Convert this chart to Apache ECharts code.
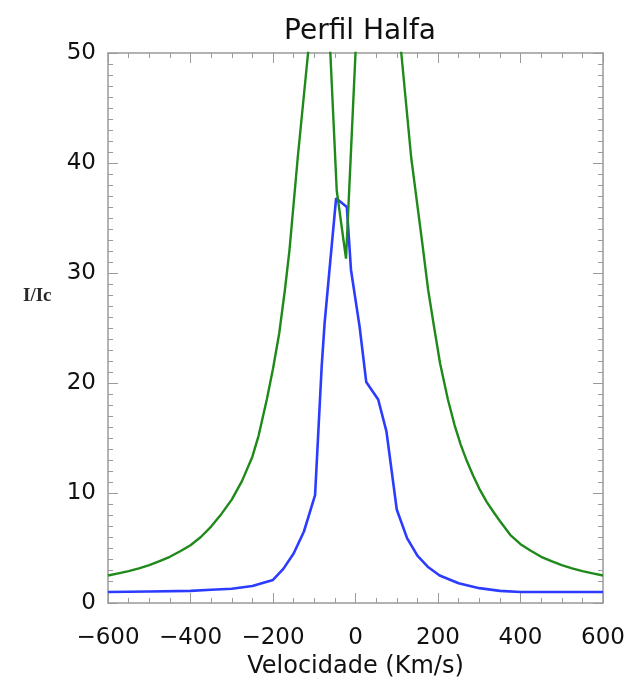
<!DOCTYPE html>
<html>
<head>
<meta charset="utf-8">
<script src="https://cdn.jsdelivr.net/npm/echarts@6/dist/echarts.min.js"></script>
<style>
html,body{margin:0;padding:0;background:#fff;}
#chart{width:631px;height:680px;}
</style>
</head>
<body>
<div id="chart"></div>
<script>
// Blue profile (velocity km/s, I/Ic)
const velBlue = [-600,-500,-400,-350,-300,-250,-200,-175,-150,-125,-98,-82,-75,-63,-47,-21,-11,10,26,55,75,100,125,150,175,204,250,300,350,400,500,600];
const icBlue  = [1.0,1.05,1.1,1.2,1.3,1.55,2.1,3.1,4.5,6.5,9.8,21.5,25.4,30.3,36.8,36.0,30.3,25.1,20.1,18.5,15.6,8.5,5.9,4.3,3.3,2.5,1.8,1.35,1.1,1.0,1.0,1.0];
// Green profile
const velGreen = [-600,-575,-550,-525,-500,-475,-450,-425,-400,-375,-350,-325,-300,-275,-250,-235,-215,-200,-185,-171,-160,-140,-115,-80,-61,-45.5,-23,-13,0,35,111,135,163,176,190,205,224,240,255,270,285,300,318,335,350,375,400,425,450,475,500,525,550,575,600];
const icGreen  = [2.5,2.7,2.9,3.15,3.45,3.8,4.2,4.7,5.25,6.0,6.95,8.1,9.4,11.1,13.3,15.2,18.5,21.3,24.5,28.5,32.1,40.5,50,66,50,37.5,31.3,39.4,50,76,50,40.5,32.4,28.5,25.2,21.8,18.5,16.2,14.4,12.9,11.6,10.4,9.2,8.25,7.45,6.2,5.35,4.75,4.2,3.8,3.45,3.15,2.9,2.7,2.5];
// Axis ticks
const xTicks = {min:-600, max:600, step:200};
const yTicks = {min:0, max:50, step:10};
const chartTitle = 'Perfil Halfa';
const xName = 'Velocidade (Km/s)';
const yName = 'I/Ic';

const font = 'DejaVu Sans';
const frameColor = '#9a9a9a';

const chart = echarts.init(document.getElementById('chart'));
const baseX = {
  type:'value', min:xTicks.min, max:xTicks.max, interval:xTicks.step,
  axisLine:{show:true, onZero:false, lineStyle:{color:frameColor, width:1.5}},
  axisTick:{show:true, inside:true, length:10, lineStyle:{color:frameColor, width:1}},
  minorTick:{show:true, splitNumber:4, length:5, lineStyle:{color:frameColor, width:1}},
  splitLine:{show:false}
};
const baseY = {
  type:'value', min:yTicks.min, max:yTicks.max, interval:yTicks.step,
  axisLine:{show:true, onZero:false, lineStyle:{color:frameColor, width:1.5}},
  axisTick:{show:true, inside:true, length:10, lineStyle:{color:frameColor, width:1}},
  minorTick:{show:true, splitNumber:10, length:5, lineStyle:{color:frameColor, width:1}},
  splitLine:{show:false}
};
chart.setOption({
  backgroundColor:'#fff',
  animation:false,
  title:[
    {text:chartTitle, left:355, textAlign:'center', top:13, textStyle:{fontFamily:font, fontSize:28, fontWeight:'normal', color:'#111'}},
    {text:yName, left:18, top:282, textStyle:{fontFamily:'Liberation Serif', fontSize:19, fontWeight:'bold', color:'#2a2a2a'}}
  ],
  grid:{left:108, right:28, top:53, bottom:77, containLabel:false, outerBoundsMode:'none'},
  xAxis:[
    Object.assign({}, baseX, {position:'bottom', name:xName, nameLocation:'middle', nameGap:50,
      nameTextStyle:{fontFamily:font, fontSize:24, color:'#111'},
      axisLabel:{show:true, margin:24, fontFamily:font, fontSize:23, color:'#111',
        formatter:v=>String(v).replace('-','\u2212')}}),
    Object.assign({}, baseX, {position:'top', axisLabel:{show:false}})
  ],
  yAxis:[
    Object.assign({}, baseY, {position:'left',
      axisLabel:{show:true, margin:12, fontFamily:font, fontSize:23, color:'#111'}}),
    Object.assign({}, baseY, {position:'right', axisLabel:{show:false}})
  ],
  series:[
    {type:'line', name:'blue', data:velBlue.map((v,i)=>[v,icBlue[i]]), showSymbol:false, symbol:'none', clip:true,
      lineStyle:{color:'#2b3cff', width:2.6}},
    {type:'line', name:'green', data:velGreen.map((v,i)=>[v,icGreen[i]]), showSymbol:false, symbol:'none', clip:true,
      lineStyle:{color:'#1f8a1a', width:2.4}}
  ]
});
</script>
</body>
</html>
